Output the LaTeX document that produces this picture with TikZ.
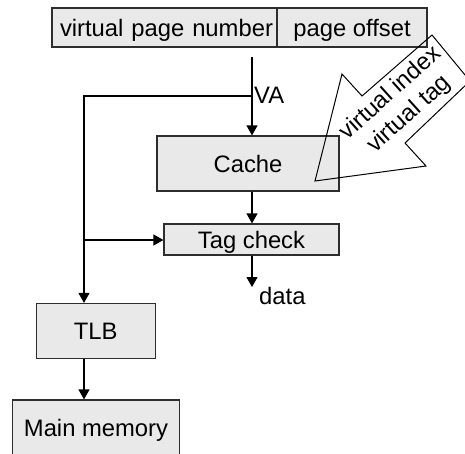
\documentclass[tikz,border=0pt]{standalone}
\usepackage{fontspec}
\setmainfont{Liberation Sans}
\usetikzlibrary{arrows.meta}
\definecolor{boxfill}{RGB}{233,233,233}
\definecolor{boxline}{RGB}{45,45,45}
\begin{document}
\begin{tikzpicture}[x=1pt,y=-1pt,
  txt/.style={font=\fontsize{23.8}{28}\selectfont},
  box/.style={txt, draw=boxline, line width=1.2pt, fill=boxfill, inner sep=0pt,
    text height=17pt, text depth=0pt},
  lbl/.style={txt, inner sep=0pt},
  ln/.style={line width=1.2pt},
  arr/.style={line width=1.2pt, -{Triangle[length=10pt,width=11pt]}}]
\clip (0,0) rectangle (465,453);
% address bar
\node[box, minimum height=39pt, text width=217pt, inner xsep=4pt, align=right] (vpn) at (164.5,27.5) {virtual page number};
\node[box, minimum width=150pt, minimum height=39pt] (po) at (352,27.5) {page offset};
% blocks
\node[box, minimum width=182pt, minimum height=55pt] (cache) at (248,163.5) {Cache};
\node[box, minimum width=175pt, minimum height=31pt] (tag) at (251.5,239.5) {Tag check};
\node[box, minimum width=119pt, minimum height=55pt] (tlb) at (95.75,331) {TLB};
\node[box, minimum width=166.5pt, minimum height=56pt] (mem) at (96,428) {Main memory};
% helper points
\coordinate (vastart) at (252,57);
\coordinate (split) at (252,96);
\coordinate (corner) at (84,96);
\coordinate (branch) at (84,240);
\coordinate (dataend) at (252,287);
% connectors
\draw[arr] (vastart) -- (vastart |- cache.north);
\draw[arr] (split) -- (corner) -- (corner |- tlb.north);
\draw[arr] (branch) -- (branch -| tag.west);
\draw[arr] (vastart |- cache.south) -- (vastart |- tag.north);
\draw[arr] (vastart |- tag.south) -- (dataend);
\draw[arr] (corner |- tlb.south) -- (corner |- mem.north);
% labels
\node[lbl, anchor=base west] (va) at (254,103) {VA};
\node[lbl, anchor=base west] (data) at (259,304) {data};
% big arrow
\draw[line width=1pt, line join=miter] (315,181) -- (342,74) -- (362,96) -- (432,35) -- (470,81) -- (405,143) -- (426,166) -- cycle;
\node[lbl, rotate=42, align=center] (vtext) at (400,104) {virtual index\\virtual tag};
\end{tikzpicture}
\end{document}
